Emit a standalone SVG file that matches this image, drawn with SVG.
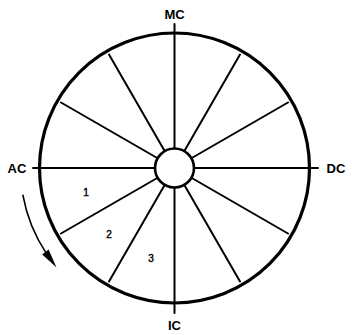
<svg xmlns="http://www.w3.org/2000/svg" width="352" height="335" viewBox="0 0 352 335">
<style>
.rim{fill:none;stroke:#000;stroke-width:3.2}
.hub{fill:#fff;stroke:#000;stroke-width:2.6}
.sp{stroke:#000;stroke-width:2;stroke-linecap:round}
.lbl{font-family:"Liberation Sans",Arial,sans-serif;font-weight:bold;font-size:13px;fill:#000}
.num{font-family:"Liberation Sans",Arial,sans-serif;font-size:10px;fill:#000;stroke:#000;stroke-width:0.4}
</style>
<rect width="352" height="335" fill="#fff"/>
<g id="connectors">
<line class="sp" x1="33" y1="168" x2="155" y2="168"/>
<line class="sp" x1="194" y1="168" x2="318" y2="168"/>
<line class="sp" x1="174.5" y1="24" x2="174.5" y2="148"/>
<line class="sp" x1="174.5" y1="188" x2="174.5" y2="313"/>
<line class="sp" x1="191.8" y1="158" x2="288" y2="102.5"/>
<line class="sp" x1="184.5" y1="150.7" x2="240" y2="54.5"/>
<line class="sp" x1="164.5" y1="150.7" x2="109" y2="54.5"/>
<line class="sp" x1="157.2" y1="158" x2="61" y2="102.5"/>
<line class="sp" x1="157.2" y1="178" x2="61" y2="233.5"/>
<line class="sp" x1="164.5" y1="185.3" x2="109" y2="281.5"/>
<line class="sp" x1="184.5" y1="185.3" x2="240" y2="281.5"/>
<line class="sp" x1="191.8" y1="178" x2="288" y2="233.5"/>
<path d="M22.8 194.7 A154 154 0 0 0 46.8 254.1" fill="none" stroke="#000" stroke-width="1.6"/>
<polygon points="48.6,249.4 42.2,254.4 56.5,267.5" fill="#000"/>
</g>
<g id="wheel">
<circle class="rim" cx="174.5" cy="168" r="135"/>
<circle class="hub" cx="174.5" cy="168" r="19.5"/>
</g>
<g id="labels">
<text class="lbl" x="174.5" y="19" text-anchor="middle">MC</text>
<text class="lbl" x="174.5" y="330" text-anchor="middle">IC</text>
<text class="lbl" x="17" y="173" text-anchor="middle">AC</text>
<text class="lbl" x="336" y="173" text-anchor="middle">DC</text>
<text class="num" x="86" y="196" text-anchor="middle">1</text>
<text class="num" x="109" y="238" text-anchor="middle">2</text>
<text class="num" x="151" y="262" text-anchor="middle">3</text>
</g>
</svg>
